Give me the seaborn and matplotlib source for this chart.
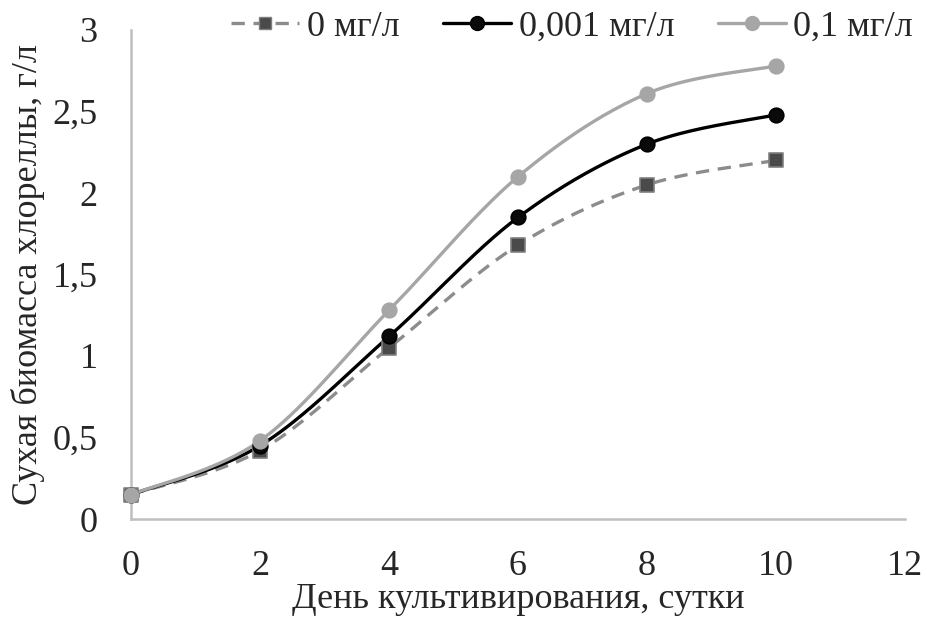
import numpy as np
import pandas as pd
import matplotlib
matplotlib.use("Agg")
import matplotlib.pyplot as plt
from matplotlib.lines import Line2D
import seaborn as sns

# ---- data ----
days = [0, 2, 4, 6, 8, 10]
series_names = ["0 мг/л", "0,001 мг/л", "0,1 мг/л"]
biomass_0 = [0.15, 0.42, 1.05, 1.68, 2.05, 2.20]
biomass_0001 = [0.15, 0.45, 1.12, 1.85, 2.30, 2.48]
biomass_01 = [0.15, 0.48, 1.28, 2.10, 2.61, 2.78]
x_ticks = [0, 2, 4, 6, 8, 10, 12]
y_ticks = [0, 0.5, 1, 1.5, 2, 2.5, 3]
y_tick_labels = ["0", "0,5", "1", "1,5", "2", "2,5", "3"]
x_label = "День культивирования, сутки"
y_label = "Сухая биомасса хлореллы, г/л"

sns.set_theme(style="white")
plt.rcParams["font.family"] = ["Liberation Serif", "DejaVu Serif"]
FS = 26


def smooth(x, y, n=40):
    """Excel-like smoothed line (Catmull-Rom bezier through the points)."""
    x = np.asarray(x, float)
    y = np.asarray(y, float)
    px = np.concatenate([[x[0]], x, [x[-1]]])
    py = np.concatenate([[y[0]], y, [y[-1]]])
    xs, ys = [], []
    for i in range(1, len(px) - 2):
        p0 = np.array([px[i - 1], py[i - 1]])
        p1 = np.array([px[i], py[i]])
        p2 = np.array([px[i + 1], py[i + 1]])
        p3 = np.array([px[i + 2], py[i + 2]])
        c1 = p1 + (p2 - p0) / 6.0
        c2 = p2 - (p3 - p1) / 6.0
        t = np.linspace(0, 1, n)[:, None]
        pts = ((1 - t) ** 3) * p1 + 3 * ((1 - t) ** 2) * t * c1 + 3 * (1 - t) * t ** 2 * c2 + t ** 3 * p2
        xs.extend(pts[:, 0])
        ys.extend(pts[:, 1])
    return np.array(xs), np.array(ys)


all_series = [biomass_0, biomass_0001, biomass_01]
line_colors = {"0 мг/л": "#8c8c8c", "0,001 мг/л": "#000000", "0,1 мг/л": "#a6a6a6"}
marker_face = {"0 мг/л": "#4a4a4a", "0,001 мг/л": "#0a0a0a", "0,1 мг/л": "#a6a6a6"}
marker_edge = {"0 мг/л": "#7f7f7f", "0,001 мг/л": "#000000", "0,1 мг/л": "#a6a6a6"}
markers = {"0 мг/л": "s", "0,001 мг/л": "o", "0,1 мг/л": "o"}
dashes = {"0 мг/л": (4, 2.6), "0,001 мг/л": "", "0,1 мг/л": ""}

curve_frames = []
point_frames = []
for name, vals in zip(series_names, all_series):
    sx, sy = smooth(days, vals)
    curve_frames.append(pd.DataFrame({"x": sx, "y": sy, "series": name}))
    point_frames.append(pd.DataFrame({"x": days, "y": vals, "series": name}))
curves = pd.concat(curve_frames, ignore_index=True)
points = pd.concat(point_frames, ignore_index=True)

fig = plt.figure(figsize=(9.28, 6.17), dpi=100)
ax = fig.add_axes([131 / 928, 1 - 519 / 617, (905 - 131) / 928, (519 - 30) / 617])

for name in series_names:
    sub = curves[curves["series"] == name]
    sns.lineplot(data=sub, x="x", y="y", sort=False, ax=ax, color=line_colors[name],
                 linewidth=2.4, estimator=None, legend=False)
    if name == "0 мг/л":
        ax.lines[-1].set_dashes(dashes[name])
    psub = points[points["series"] == name]
    sns.scatterplot(data=psub, x="x", y="y", ax=ax, marker=markers[name], s=110 if markers[name] == "o" else 95,
                    color=marker_face[name], edgecolor=marker_edge[name], linewidth=1.2,
                    legend=False, zorder=5)

ax.set_xlim(0, 12)
ax.set_ylim(0, 3)
ax.set_xticks(x_ticks)
ax.set_xticklabels([str(v) for v in x_ticks], fontsize=FS)
ax.set_yticks(y_ticks)
ax.set_yticklabels(y_tick_labels, fontsize=FS)
ax.tick_params(axis="x", length=0, pad=22)
ax.tick_params(axis="y", length=0, pad=24)
ax.set_xlabel(x_label, fontsize=FS, va="center")
ax.set_ylabel(y_label, fontsize=FS, va="center")
ax.xaxis.set_label_coords(0.5, -(600 - 519) / 489)
ax.yaxis.set_label_coords(-(131 - 28) / 774, 0.5)
for s in ["top", "right"]:
    ax.spines[s].set_visible(False)
for s in ["left", "bottom"]:
    ax.spines[s].set_color("#bfbfbf")
    ax.spines[s].set_linewidth(1.8)
ax.set_facecolor("white")
ax.grid(False)
for l in ax.lines:
    l.set_clip_on(False)
for c in ax.collections:
    c.set_clip_on(False)

handles = []
for name in series_names:
    h = Line2D([0], [0], color=line_colors[name], linewidth=2.4,
               linestyle="--" if name == "0 мг/л" else "-",
               marker=markers[name], markersize=10 if markers[name] == "o" else 9,
               markerfacecolor=marker_face[name], markeredgecolor=marker_edge[name])
    if name == "0 мг/л":
        h.set_dashes(dashes[name])
    handles.append(h)
leg = ax.legend(handles, series_names, loc="center", bbox_to_anchor=((572 - 131) / 774, (519 - 27) / 489),
                ncol=3, frameon=False, fontsize=FS, handlelength=1.9, handletextpad=0.2,
                columnspacing=1.2, borderaxespad=0)

fig.savefig("out.png", dpi=100, facecolor="white")
